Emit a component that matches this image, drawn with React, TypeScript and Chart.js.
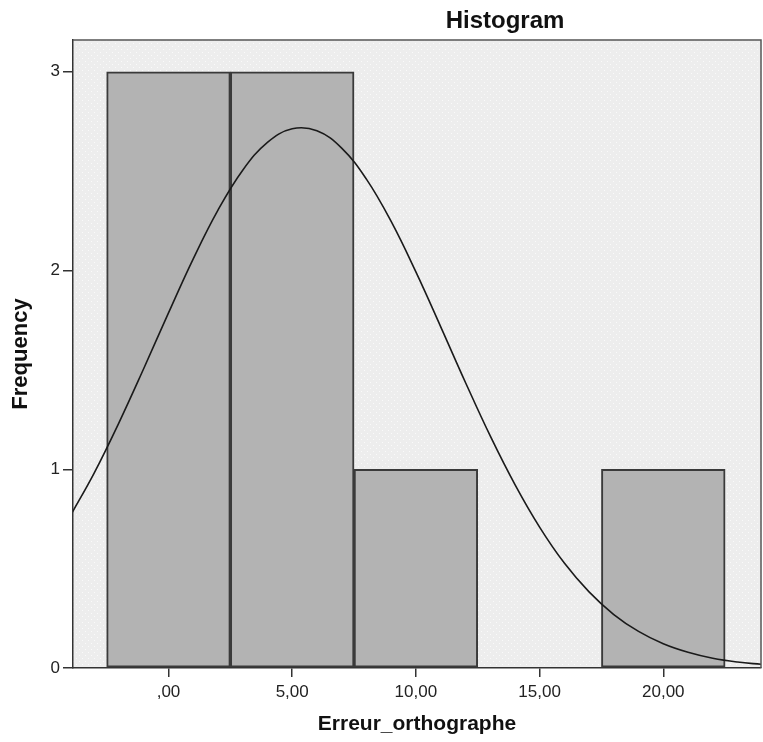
import React, { useEffect, useRef } from "react";
import { Chart, registerables } from "chart.js";

Chart.register(...registerables);

// ---- data ----
const binCenters = [0, 5, 10, 15, 20];
const binCounts = [3, 3, 1, 0, 1];

// normal curve (frequency units)
const curveX = [-4, -3, -2, -1, 0, 1, 2, 3, 4, 5, 6, 7, 8, 9, 10, 11, 12, 13, 14, 15, 16, 17, 18, 19, 20, 21, 22, 23, 24];
const curveY = [0.759, 0.982, 1.235, 1.507, 1.787, 2.059, 2.304, 2.505, 2.645, 2.713, 2.703, 2.616, 2.46, 2.247, 1.993, 1.718, 1.438, 1.169, 0.924, 0.709, 0.528, 0.383, 0.269, 0.184, 0.122, 0.079, 0.049, 0.03, 0.018];

const xTickValues = [0, 5, 10, 15, 20];
const xTickLabels = [",00", "5,00", "10,00", "15,00", "20,00"];
const yTickValues = [0, 1, 2, 3];
const yTickLabels = ["0", "1", "2", "3"];

const chartTitle = "Histogram";
const xTitle = "Erreur_orthographe";
const yTitle = "Frequency";

const xMin = -3.86;
const xMax = 23.95;
const yMin = 0;
const yMax = 3.16;

const FONT = '"Liberation Sans", Arial, sans-serif';

const decorPlugin = {
  id: "decor",
  beforeDraw(chart: any) {
    const { ctx, chartArea: a } = chart;
    ctx.save();
    ctx.fillStyle = "#ffffff";
    ctx.fillRect(0, 0, chart.width, chart.height);
    const tile = document.createElement("canvas");
    tile.width = 6;
    tile.height = 6;
    const t = tile.getContext("2d")!;
    t.fillStyle = "#ededed";
    t.fillRect(0, 0, 6, 6);
    t.fillStyle = "#fafafa";
    t.fillRect(1, 1, 1, 1);
    t.fillRect(4, 4, 1, 1);
    ctx.fillStyle = ctx.createPattern(tile, "repeat");
    ctx.fillRect(a.left, a.top, a.right - a.left, a.bottom - a.top);
    ctx.restore();
  },
  afterDraw(chart: any) {
    const { ctx, chartArea: a } = chart;
    ctx.save();
    ctx.strokeStyle = "#555555";
    ctx.lineWidth = 1.5;
    ctx.beginPath();
    ctx.moveTo(a.left, a.top);
    ctx.lineTo(a.right, a.top);
    ctx.lineTo(a.right, a.bottom);
    ctx.stroke();
    ctx.fillStyle = "#111111";
    ctx.font = `bold 24px ${FONT}`;
    ctx.textAlign = "center";
    ctx.textBaseline = "middle";
    ctx.fillText(chartTitle, 505, 21);
    ctx.restore();
  },
};

export default function App() {
  const ref = useRef<HTMLCanvasElement | null>(null);

  useEffect(() => {
    if (!ref.current) return;
    const chart = new Chart(ref.current, {
      type: "bar",
      data: {
        datasets: [
          {
            type: "line",
            data: curveX.map((x, i) => ({ x, y: curveY[i] })),
            borderColor: "#1a1a1a",
            borderWidth: 1.6,
            pointRadius: 0,
            tension: 0.4,
            fill: false,
            order: 0,
          } as any,
          {
            type: "bar",
            data: binCenters.map((x, i) => ({ x, y: binCounts[i] })),
            backgroundColor: "#b3b3b3",
            borderColor: "#3a3a3a",
            borderWidth: 2,
            borderSkipped: false,
            barPercentage: 1,
            categoryPercentage: 1,
            order: 1,
          } as any,
        ],
      },
      options: {
        responsive: false,
        animation: false,
        devicePixelRatio: 1,
        layout: { padding: { top: 40, right: 2, left: 0, bottom: 0 } },
        plugins: {
          legend: { display: false },
          tooltip: { enabled: false },
          title: { display: false },
        },
        scales: {
          x: {
            type: "linear",
            min: xMin,
            max: xMax,
            offset: false,
            afterBuildTicks: (scale: any) => {
              scale.ticks = xTickValues.map((v) => ({ value: v }));
            },
            afterFit: (scale: any) => {
              scale.height = 74;
            },
            ticks: {
              callback: (v: any) => xTickLabels[xTickValues.indexOf(Number(v))],
              font: { family: FONT, size: 17 },
              color: "#222222",
              padding: 5,
              maxRotation: 0,
              autoSkip: false,
            },
            grid: {
              display: true,
              offset: false,
              drawOnChartArea: false,
              drawTicks: true,
              tickLength: 9,
              color: "#333333",
              lineWidth: 1.5,
            },
            border: { display: true, color: "#333333", width: 1.5 },
            title: {
              display: true,
              text: xTitle,
              font: { family: FONT, size: 21, weight: "bold" },
              color: "#111111",
              padding: { top: 0, bottom: 5 },
            },
          },
          y: {
            type: "linear",
            min: yMin,
            max: yMax,
            afterBuildTicks: (scale: any) => {
              scale.ticks = yTickValues.map((v) => ({ value: v }));
            },
            afterFit: (scale: any) => {
              scale.width = 73;
            },
            ticks: {
              callback: (v: any) => yTickLabels[yTickValues.indexOf(Number(v))],
              font: { family: FONT, size: 17 },
              color: "#222222",
              padding: 3,
            },
            grid: {
              display: true,
              offset: false,
              drawOnChartArea: false,
              drawTicks: true,
              tickLength: 10,
              color: "#333333",
              lineWidth: 1.5,
            },
            border: { display: true, color: "#333333", width: 1.5 },
            title: {
              display: true,
              text: yTitle,
              font: { family: FONT, size: 22, weight: "bold" },
              color: "#111111",
              padding: { top: 8, bottom: 0 },
            },
          },
        },
      } as any,
      plugins: [decorPlugin],
    });
    return () => chart.destroy();
  }, []);

  return (
    <div style={{ position: "fixed", left: 0, top: 0, width: 763, height: 742, background: "#fff" }}>
      <canvas ref={ref} width={763} height={742} style={{ display: "block" }} />
    </div>
  );
}
